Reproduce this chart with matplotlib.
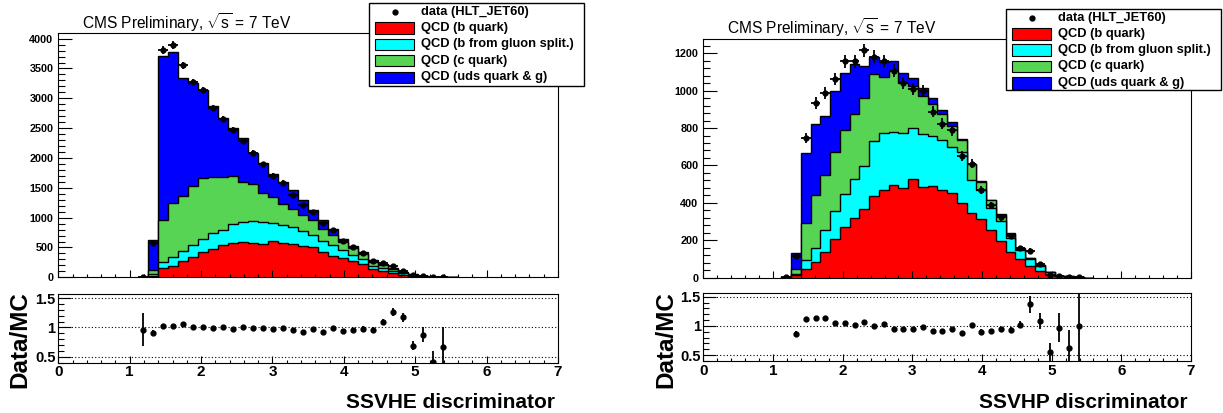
import numpy as np
import matplotlib
matplotlib.use("Agg")
import matplotlib.pyplot as plt
from matplotlib.patches import Rectangle
from matplotlib.ticker import MultipleLocator

plt.rcParams['font.family'] = ['Liberation Sans', 'DejaVu Sans']
plt.rcParams['mathtext.fontset'] = 'custom'
plt.rcParams['mathtext.rm'] = 'Liberation Sans'
plt.rcParams['mathtext.it'] = 'Liberation Sans'

# binning: 50 bins between 0 and 7, values listed start at bin 8
BIN_W = 0.14
FIRST_BIN = 8

# ---------------- SSVHE ----------------
he_b = [2, 28, 152, 191, 270, 337, 421, 478, 534, 573, 590, 573, 562, 607, 573, 562,
        517, 506, 421, 365, 330, 270, 227, 140, 105, 70, 34, 17, 8, 4, 2, 0.5]
he_bg = [1, 32, 101, 146, 168, 197, 225, 264, 253, 326, 331, 371, 365, 303, 298, 281,
         258, 196, 186, 175, 135, 102, 83, 45, 45, 40, 31, 15, 6, 3, 1, 0.3]
he_c = [2, 69, 702, 910, 922, 994, 1011, 932, 898, 798, 680, 618, 494, 438, 365, 309,
        264, 253, 208, 166, 129, 124, 85, 75, 52, 30, 13, 10, 4, 2, 1, 0.2]
he_uds = [3, 500, 2753, 2534, 1983, 1730, 1478, 1191, 984, 803, 731, 528, 489, 382, 354, 309,
          253, 169, 151, 97, 56, 36, 25, 28, 18, 12, 7, 5, 2, 1, 1, 0.2]
he_data = [8, 579, 3809, 3893, 3556, 3275, 3140, 2837, 2655, 2470, 2292, 2088, 1895, 1700,
           1584, 1378, 1218, 1092, 905, 785, 615, 512, 405, 275, 242, 195, 99, 33, 18, 4, 3]
he_data_err = [3, 24, 62, 62, 60, 57, 56, 53, 52, 50, 48, 46, 44, 41, 40, 37, 35, 33, 30,
               28, 25, 23, 20, 17, 16, 14, 10, 6, 4, 2, 2]
he_ratio = [0.96, 0.91, 1.02, 1.02, 1.055, 1.0, 1.0, 0.985, 1.0, 0.98, 1.0, 0.99, 0.99, 0.97,
            0.995, 0.95, 0.93, 0.97, 0.92, 0.995, 0.94, 0.95, 0.97, 0.95, 1.09, 1.27, 1.17,
            0.69, 0.88, 0.42, 0.66]
he_ratio_err = [0.28, 0.04, 0.015, 0.015, 0.015, 0.015, 0.015, 0.015, 0.015, 0.015, 0.015,
                0.015, 0.02, 0.02, 0.02, 0.02, 0.02, 0.02, 0.02, 0.03, 0.04, 0.04, 0.05, 0.05,
                0.05, 0.07, 0.08, 0.08, 0.12, 0.18, 0.34]

# ---------------- SSVHP ----------------
hp_b = [1, 12, 48, 84, 138, 209, 271, 319, 368, 436, 470, 493, 480, 530, 485, 491,
        470, 455, 400, 345, 315, 257, 198, 136, 100, 64, 38, 18, 8, 3, 1, 0.5]
hp_bg = [0.5, 10, 48, 77, 116, 148, 174, 211, 229, 294, 305, 287, 292, 270, 285, 269,
         265, 245, 273, 179, 155, 118, 104, 77, 50, 36, 26, 10, 2, 3, 2, 0.3]
hp_c = [1, 23, 197, 280, 294, 313, 345, 343, 363, 358, 298, 323, 267, 225, 200, 168,
        141, 113, 63, 82, 43, 38, 32, 21, 6, 4, 3, 2, 1, 1, 1, 0.2]
hp_uds = [0.5, 89, 371, 381, 318, 330, 303, 267, 172, 94, 82, 58, 56, 43, 44, 33,
          21, 19, 4, 4, 2, 3, 6, 4, 2, 2, 1, 0, 0, 1, 0, 0]
hp_data = [6, 114, 748, 935, 988, 1063, 1156, 1157, 1215, 1182, 1158, 1107, 1039, 1007,
           999, 888, 824, 787, 650, 610, 470, 386, 322, 225, 158, 145, 73, 16, 11, 5, 4]
hp_data_err = [2, 11, 27, 31, 31, 33, 34, 34, 35, 34, 34, 33, 32, 32, 32, 30, 29, 28, 26,
               25, 22, 20, 18, 15, 13, 12, 9, 4, 3, 2, 2]
hp_ratio = [np.nan, 0.87, 1.125, 1.14, 1.14, 1.05, 1.05, 1.02, 1.075, 1.0, 1.03, 0.955, 0.94,
            0.94, 0.98, 0.915, 0.915, 0.94, 0.885, 1.01, 0.9, 0.91, 0.94, 0.925, 1.02, 1.37,
            1.085, 0.55, 0.97, 0.63, 1.0]
hp_ratio_err = [0, 0.05, 0.03, 0.03, 0.03, 0.03, 0.03, 0.03, 0.03, 0.03, 0.03, 0.03, 0.03,
                0.03, 0.03, 0.03, 0.03, 0.03, 0.03, 0.03, 0.04, 0.04, 0.05, 0.05, 0.06, 0.14,
                0.14, 0.15, 0.25, 0.3, 0.6]

labels = ['data (HLT_JET60)', 'QCD (b quark)', 'QCD (b from gluon split.)',
          'QCD (c quark)', 'QCD (uds quark & g)']
colors = ['#ff0000', '#00ffff', '#57d453', '#0000ff']

W, H = 1223, 413
fig = plt.figure(figsize=(W / 100, H / 100), dpi=100)


def box(x0, y0, x1, y1):
    # pixel box (top-left origin) -> figure fraction
    return [x0 / W, 1 - y1 / H, (x1 - x0) / W, (y1 - y0) / H]


def legend_box(x0, y0, x1, y1):
    # ROOT-like legend drawn in its own pixel-sized axes
    lg = fig.add_axes(box(x0, y0, x1, y1))
    w, h = x1 - x0, y1 - y0
    lg.set_xlim(0, w)
    lg.set_ylim(h, 0)
    lg.axis('off')
    lg.add_patch(Rectangle((0, 0), w, h, facecolor='white', edgecolor='black',
                           linewidth=1.0, clip_on=False))
    rows = [9, 25, 41, 57.4, 74]
    lg.plot(25.5, rows[0], 'o', color='black', ms=3.5)
    for row, c in zip(rows[1:], colors):
        lg.add_patch(Rectangle((6, row - 5.8), 39, 11.6, facecolor=c,
                               edgecolor='black', linewidth=0.8))
    for row, lab in zip(rows, labels):
        lg.text(52, row, lab, ha='left', va='center', fontsize=9.3, fontweight='bold')


def draw(main_box, ratio_box, comps, data, data_err, ratio, ratio_err,
         ymax, ymaj, ymin_step, xlabel, title_xy, leg):
    ax = fig.add_axes(box(*main_box))
    rx = fig.add_axes(box(*ratio_box))

    tops = np.cumsum(np.array(comps, dtype=float), axis=0)
    edges = BIN_W * (FIRST_BIN + np.arange(tops.shape[1] + 1))
    for level in range(3, -1, -1):
        ax.stairs(tops[level], edges, fill=True, facecolor=colors[level],
                  edgecolor='black', linewidth=1.0, baseline=0)

    xc = BIN_W * (FIRST_BIN + np.arange(len(data)) + 0.5)
    ax.errorbar(xc, data, xerr=BIN_W / 2, yerr=data_err, fmt='o', color='black',
                ms=3.5, elinewidth=1.3, capsize=0, zorder=5)
    ax.set_xlim(0, 7)
    ax.set_ylim(0, ymax)
    ax.xaxis.set_major_locator(MultipleLocator(1))
    ax.xaxis.set_minor_locator(MultipleLocator(0.2))
    ax.yaxis.set_major_locator(MultipleLocator(ymaj))
    ax.yaxis.set_minor_locator(MultipleLocator(ymin_step))
    ax.tick_params(axis='x', which='both', direction='in', labelbottom=False, width=0.8)
    ax.tick_params(axis='x', which='major', length=5)
    ax.tick_params(axis='x', which='minor', length=2.5)
    ax.tick_params(axis='y', which='both', direction='in', width=0.8, labelsize=7.8, pad=3.6)
    ax.tick_params(axis='y', which='major', length=10.3)
    ax.tick_params(axis='y', which='minor', length=4.8)
    for t in ax.get_yticklabels():
        t.set_fontweight('bold')

    xr = BIN_W * (FIRST_BIN + np.arange(len(ratio)) + 0.5)
    for v in (0.5, 1.0, 1.5):
        rx.axhline(v, color='black', linestyle=(0, (1, 2)), linewidth=0.8)
    rx.errorbar(xr, ratio, yerr=ratio_err, fmt='o', color='black', ms=3.5,
                elinewidth=1.3, capsize=0, zorder=5)
    rx.set_xlim(0, 7)
    rx.set_ylim(0.4, 1.57)
    rx.xaxis.set_major_locator(MultipleLocator(1))
    rx.xaxis.set_minor_locator(MultipleLocator(0.2))
    rx.yaxis.set_major_locator(MultipleLocator(0.5))
    rx.yaxis.set_minor_locator(MultipleLocator(0.1))
    rx.set_yticks([0.5, 1.0, 1.5], ['0.5', '1', '1.5'])
    rx.tick_params(axis='both', which='both', direction='in', width=0.8)
    rx.tick_params(axis='x', which='major', length=5, labelsize=11, pad=2)
    rx.tick_params(axis='x', which='minor', length=2.5)
    rx.tick_params(axis='y', which='major', length=9, labelsize=10.5, pad=2)
    rx.tick_params(axis='y', which='minor', length=4.5)
    for t in rx.get_xticklabels() + rx.get_yticklabels():
        t.set_fontweight('bold')

    x1 = ratio_box[2]
    fig.text((x1 - 3) / W, 1 - 403 / H, xlabel, ha='right', va='center',
             fontsize=15, fontweight='bold')
    fig.text((ratio_box[0] - 38) / W, 1 - 340 / H, 'Data/MC', rotation=90,
             ha='center', va='center', fontsize=17.5, fontweight='bold')
    fig.text(title_xy[0] / W, 1 - title_xy[1] / H,
             r'CMS Preliminary, $\sqrt{\mathrm{s}}$ = 7 TeV',
             ha='left', va='center', fontsize=11.2)

    legend_box(*leg)


draw((58.3, 33.3, 558, 277.3), (58.3, 294, 558, 362.7),
     [he_b, he_bg, he_c, he_uds], he_data, he_data_err, he_ratio, he_ratio_err,
     4090, 500, 100, 'SSVHE discriminator', (82.5, 22.7), (369, 3.3, 584, 86))
draw((703.5, 39, 1191, 277.7), (703.5, 292.7, 1191, 361),
     [hp_b, hp_bg, hp_c, hp_uds], hp_data, hp_data_err, hp_ratio, hp_ratio_err,
     1276, 200, 40, 'SSVHP discriminator', (727, 28), (1006, 9, 1221, 90))

fig.savefig('out.png', dpi=100)
